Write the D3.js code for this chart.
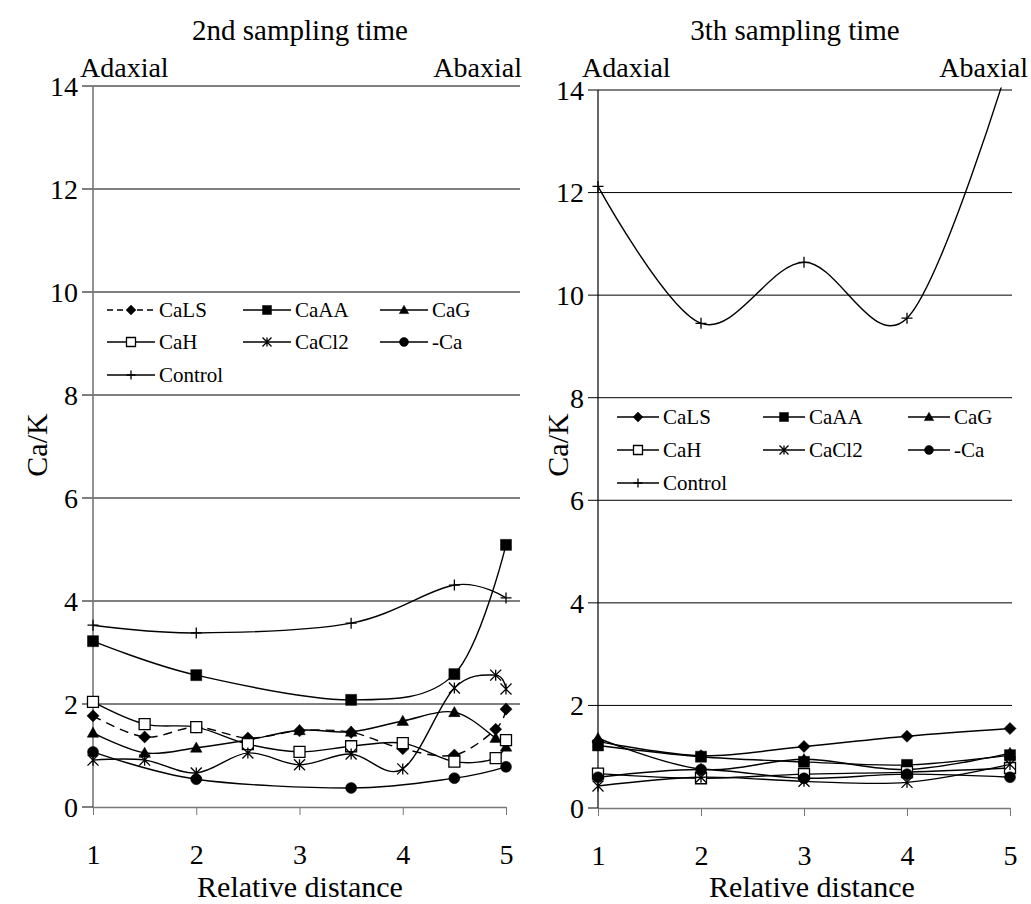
<!DOCTYPE html>
<meta charset="utf-8">
<style>

body {
  margin: 0;
  background: #fff;
}

svg text {
  font-family: "Liberation Serif", "Times New Roman", serif !important;
  fill: #000;
}

.grid line {
  stroke: #000;
  stroke-width: 1px;
}

.series path.line {
  fill: none;
  stroke: #000;
  stroke-width: 1.4px;
}

</style>
<body>
<script src="https://cdn.jsdelivr.net/npm/d3@7/dist/d3.min.js"></script>
<script>

// Names and markers, in legend order.
var seriesNames = ["CaLS", "CaAA", "CaG", "CaH", "CaCl2", "-Ca", "Control"],
    seriesMarks = ["diamond", "square", "triangle", "openSquare", "asterisk", "circle", "plus"];

var yTicks = [0, 2, 4, 6, 8, 10, 12, 14],
    xTicks = [1, 2, 3, 4, 5];

// 2nd sampling time: two sets of sampling positions.
var leftXa = [1, 1.5, 2, 2.5, 3, 3.5, 4, 4.5, 4.9, 5],
    leftXb = [1, 2, 3.5, 4.5, 5];

var leftCaLS    = [1.77, 1.36, 1.55, 1.34, 1.48, 1.45, 1.13, 1.01, 1.51, 1.9],
    leftCaAA    = [3.22, 2.56, 2.08, 2.58, 5.09],
    leftCaG     = [1.44, 1.05, 1.15, 1.3, 1.49, 1.46, 1.67, 1.84, 1.34, 1.17],
    leftCaH     = [2.04, 1.61, 1.55, 1.22, 1.07, 1.18, 1.24, 0.88, 0.95, 1.3],
    leftCaCl2   = [0.91, 0.91, 0.66, 1.05, 0.82, 1.03, 0.74, 2.31, 2.56, 2.29],
    leftMinusCa = [1.07, 0.54, 0.37, 0.56, 0.78],
    leftControl = [3.53, 3.38, 3.57, 4.31, 4.06];

// 3th sampling time
var rightX = [1, 2, 3, 4, 5];

var rightCaLS    = [1.3, 1.02, 1.2, 1.4, 1.55],
    rightCaAA    = [1.22, 1.0, 0.9, 0.84, 1.03],
    rightCaG     = [1.36, 0.76, 0.95, 0.75, 1.07],
    rightCaH     = [0.67, 0.58, 0.66, 0.7, 0.78],
    rightCaCl2   = [0.43, 0.6, 0.52, 0.5, 0.85],
    rightMinusCa = [0.6, 0.75, 0.58, 0.66, 0.6],
    rightControl = [12.12, 9.45, 10.64, 9.55, 14.6];

function zip(xs, ys) {
  return ys.map(function(v, i) { return {x: xs[i], y: v}; });
}

var panels = [
  {
    title: "2nd sampling time", titleX: 300,
    xRange: [93, 506], yRange: [807, 86], gridX: [82, 520],
    adaxialX: 80, abaxialX: 522, labelX: 300, yLabelX: 47,
    axisColor: "#777", dashedLS: true,
    legend: {x: [107, 243, 380], y: [310, 342, 375], len: 48},
    series: [
      zip(leftXa, leftCaLS), zip(leftXb, leftCaAA), zip(leftXa, leftCaG),
      zip(leftXa, leftCaH), zip(leftXa, leftCaCl2), zip(leftXb, leftMinusCa),
      zip(leftXb, leftControl)
    ]
  },
  {
    title: "3th sampling time", titleX: 795,
    xRange: [598, 1010], yRange: [808, 90], gridX: [588, 1012],
    adaxialX: 582, abaxialX: 1028, labelX: 812, yLabelX: 568,
    axisColor: "#000", dashedLS: false,
    legend: {x: [617, 763, 908], y: [417, 450, 483], len: 42},
    series: [
      zip(rightX, rightCaLS), zip(rightX, rightCaAA), zip(rightX, rightCaG),
      zip(rightX, rightCaH), zip(rightX, rightCaCl2), zip(rightX, rightMinusCa),
      zip(rightX, rightControl)
    ]
  }
];

var FONT = "Liberation Serif, Times New Roman, serif";

var svg = d3.select("body").append("svg")
    .attr("width", 1031)
    .attr("height", 904)
    .attr("font-family", FONT);

// Marker shapes, drawn to a given size in pixels.
function markerPath(type, s) {
  var h = s / 2;
  switch (type) {
    case "diamond":
      return "M0," + (-h * 1.1) + "L" + (h * 1.1) + ",0L0," + (h * 1.1) + "L" + (-h * 1.1) + ",0Z";
    case "square":
    case "openSquare":
      return "M" + (-h) + "," + (-h) + "H" + h + "V" + h + "H" + (-h) + "Z";
    case "triangle":
      return "M0," + (-h * 1.05) + "L" + (h * 1.05) + "," + (h * 0.8) + "L" + (-h * 1.05) + "," + (h * 0.8) + "Z";
    case "circle":
      return d3.symbol(d3.symbolCircle, Math.PI * h * h)();
    case "asterisk":
      return "M" + (-h) + "," + (-h) + "L" + h + "," + h + "M" + (-h) + "," + h + "L" + h + "," + (-h) +
             "M0," + (-h) + "L0," + h;
    case "plus":
      return "M" + (-h) + ",0H" + h + "M0," + (-h) + "V" + h;
  }
}

function styleMarker(sel, type) {
  var filled = type == "diamond" || type == "square" || type == "triangle" || type == "circle";
  sel.attr("fill", type == "openSquare" ? "#fff" : (filled ? "#000" : "none"))
     .attr("stroke", "#000")
     .attr("stroke-width", type == "openSquare" ? 1.3 : (filled ? 0.5 : 1.3));
}

function addText(sel, size) {
  return sel.append("text")
    .attr("font-family", FONT)
    .style("font-family", FONT)
    .style("font-size", size + "px");
}

panels.forEach(function(p, pi) {
  var x = d3.scaleLinear().domain([1, 5]).range(p.xRange),
      y = d3.scaleLinear().domain([0, 14]).range(p.yRange);

  var g = svg.append("g");

  // gridlines (they also act as the y ticks)
  g.append("g").attr("class", "grid")
    .selectAll("line")
    .data(yTicks.filter(function(t) { return t > 0; }))
    .enter().append("line")
      .attr("x1", p.gridX[0])
      .attr("x2", p.gridX[1])
      .attr("y1", function(d) { return y(d); })
      .attr("y2", function(d) { return y(d); });

  // y axis line + tick at zero
  g.append("line")
    .attr("x1", x(1)).attr("x2", x(1))
    .attr("y1", y(14)).attr("y2", y(0))
    .attr("stroke", p.axisColor).attr("stroke-width", pi == 0 ? 1.6 : 1.2);
  g.append("line")
    .attr("x1", p.gridX[0]).attr("x2", x(1))
    .attr("y1", y(0)).attr("y2", y(0))
    .attr("stroke", "#000");

  // x axis
  var xAxis = d3.axisBottom(x).tickValues(xTicks).tickSize(8).tickSizeOuter(0).tickFormat(d3.format("d"));
  var xg = g.append("g")
    .attr("transform", "translate(0," + y(0) + ")")
    .call(xAxis)
    .attr("font-family", FONT)
    .attr("font-size", 28);
  xg.select(".domain").attr("stroke", "#777").attr("stroke-width", 1.4);
  xg.selectAll(".tick line").attr("stroke", "#777");
  xg.selectAll(".tick text")
    .attr("y", 0).attr("dy", "57px")
    .style("font-family", FONT)
    .style("font-size", "28px")
    .attr("fill", "#000");

  // y tick labels
  yTicks.forEach(function(t) {
    addText(g, 28)
      .attr("x", p.gridX[0] - 4)
      .attr("y", y(t))
      .attr("dy", "0.35em")
      .attr("text-anchor", "end")
      .text(t);
  });

  // titles
  addText(g, 29)
    .attr("x", p.titleX).attr("y", 40)
    .attr("text-anchor", "middle")
    .text(p.title);
  addText(g, 28)
    .attr("x", p.adaxialX).attr("y", 77)
    .text("Adaxial");
  addText(g, 28)
    .attr("x", p.abaxialX).attr("y", 77)
    .attr("text-anchor", "end")
    .text("Abaxial");
  addText(g, 30)
    .attr("x", p.labelX).attr("y", 897)
    .attr("text-anchor", "middle")
    .text("Relative distance");
  addText(g, 30)
    .attr("transform", "translate(" + p.yLabelX + ",445)rotate(-90)")
    .attr("text-anchor", "middle")
    .text("Ca/K");

  // clip so the control curve stops at the top of the plot
  var clipId = "clip" + pi;
  svg.append("clipPath").attr("id", clipId)
    .append("rect")
      .attr("x", p.gridX[0]).attr("y", y(14.05))
      .attr("width", p.gridX[1] - p.gridX[0] + 20)
      .attr("height", y(0) - y(14.05) + 10);

  var line = d3.line()
    .x(function(d) { return x(d.x); })
    .y(function(d) { return y(d.y); })
    .curve(d3.curveCatmullRom.alpha(0));

  var series = g.append("g").attr("class", "series").attr("clip-path", "url(#" + clipId + ")")
    .selectAll("g")
    .data(p.series)
    .enter().append("g");

  series.append("path")
    .attr("class", "line")
    .attr("d", line)
    .attr("stroke-dasharray", function(d, i) { return (i == 0 && p.dashedLS) ? "9,6" : null; });

  series.each(function(d, i) {
    var type = seriesMarks[i];
    d3.select(this).selectAll(".mk")
      .data(d.filter(function(pt) { return pt.y <= 14; }))
      .enter().append("path")
        .attr("class", "mk")
        .attr("transform", function(pt) { return "translate(" + x(pt.x) + "," + y(pt.y) + ")"; })
        .attr("d", markerPath(type, 11))
        .call(styleMarker, type);
  });

  // legend: 3 columns
  var lg = g.append("g");
  seriesNames.forEach(function(name, i) {
    var lx = p.legend.x[i % 3],
        ly = p.legend.y[Math.floor(i / 3)],
        type = seriesMarks[i];
    lg.append("line")
      .attr("x1", lx).attr("x2", lx + p.legend.len)
      .attr("y1", ly).attr("y2", ly)
      .attr("stroke", "#000").attr("stroke-width", 1.4)
      .attr("stroke-dasharray", (i == 0 && p.dashedLS) ? "6,4" : null);
    lg.append("path")
      .attr("transform", "translate(" + (lx + p.legend.len / 2) + "," + ly + ")")
      .attr("d", markerPath(type, 9))
      .call(styleMarker, type);
    addText(lg, 21)
      .attr("x", lx + p.legend.len + 4)
      .attr("y", ly)
      .attr("dy", "0.35em")
      .text(name);
  });
});

</script>
